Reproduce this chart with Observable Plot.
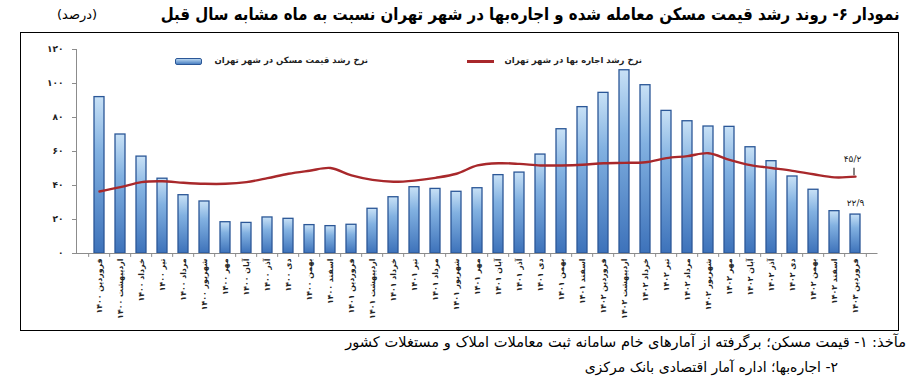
<!DOCTYPE html>
<html><head><meta charset="utf-8">
<script src="https://cdn.jsdelivr.net/npm/d3@7"></script>
<script src="https://cdn.jsdelivr.net/npm/@observablehq/plot@0.6"></script>
<style>
body{margin:0;background:#fff;}
#wrap{position:relative;width:918px;height:388px;font-family:"DejaVu Sans",sans-serif;color:#000;overflow:hidden;}
.title{position:absolute;top:4px;right:18px;font-weight:bold;font-size:17px;direction:rtl;white-space:nowrap;transform:scaleX(0.88);transform-origin:right center;}
.unit{position:absolute;top:7px;left:57px;font-size:13px;direction:rtl;white-space:nowrap;}
.box{position:absolute;left:20px;top:32px;width:877px;height:297px;border:1px solid #000;}
#chart{position:absolute;left:0;top:32px;}
.cap{position:absolute;direction:rtl;font-size:14px;white-space:nowrap;}
.leg{position:absolute;direction:rtl;font-size:8.5px;font-weight:bold;white-space:nowrap;color:#222;}
.sw1{position:absolute;left:175px;top:58px;width:25px;height:5px;border:1px solid #2b5797;border-radius:2px;background:linear-gradient(#b8d6f0,#4a7fc1);}
.sw2{position:absolute;left:467px;top:60px;width:27px;height:2.5px;background:#a8282b;}
</style></head><body>
<div id="wrap">
  <div class="title">نمودار ۶- روند رشد قیمت مسکن معامله شده و اجاره‌بها در شهر تهران نسبت به ماه مشابه سال قبل</div>
  <div class="unit">(درصد)</div>
  <div class="box"></div>
  <div id="chart"></div>
  <div class="sw1"></div>
  <div class="leg" style="right:550px;top:55px;">نرخ رشد قیمت مسکن در شهر تهران</div>
  <div class="sw2"></div>
  <div class="leg" style="right:276px;top:55px;">نرخ رشد اجاره بها در شهر تهران</div>
  <div class="cap" style="right:12px;top:333px;font-size:14.6px;">مآخذ: ۱- قیمت مسکن؛ برگرفته از آمارهای خام سامانه ثبت معاملات املاک و مستغلات کشور</div>
  <div class="cap" style="right:80px;top:359px;">۲- اجاره‌بها؛ اداره آمار اقتصادی بانک مرکزی</div>
</div>
<script>
const labels = [
  "فروردین ۱۴۰۰","اردیبهشت ۱۴۰۰","خرداد ۱۴۰۰","تیر ۱۴۰۰","مرداد ۱۴۰۰","شهریور ۱۴۰۰","مهر ۱۴۰۰","آبان ۱۴۰۰","آذر ۱۴۰۰","دی ۱۴۰۰","بهمن ۱۴۰۰","اسفند ۱۴۰۰",
  "فروردین ۱۴۰۱","اردیبهشت ۱۴۰۱","خرداد ۱۴۰۱","تیر ۱۴۰۱","مرداد ۱۴۰۱","شهریور ۱۴۰۱","مهر ۱۴۰۱","آبان ۱۴۰۱","آذر ۱۴۰۱","دی ۱۴۰۱","بهمن ۱۴۰۱","اسفند ۱۴۰۱",
  "فروردین ۱۴۰۲","اردیبهشت ۱۴۰۲","خرداد ۱۴۰۲","تیر ۱۴۰۲","مرداد ۱۴۰۲","شهریور ۱۴۰۲","مهر ۱۴۰۲","آبان ۱۴۰۲","آذر ۱۴۰۲","دی ۱۴۰۲","بهمن ۱۴۰۲","اسفند ۱۴۰۲",
  "فروردین ۱۴۰۳"
];
const housing = [92,70,57,44,34.3,30.6,18.4,18,21.2,20.4,16.7,16.1,16.9,26.3,33.1,39,38,36.3,38.4,46.1,47.6,58.2,73.1,86.1,94.5,107.8,99,83.9,77.8,74.7,74.5,62.5,54.3,45.3,37.5,24.9,22.9];
const rent = [36.5,39,42,42.5,41.6,41,41,42,44.3,46.9,48.7,50.3,45.9,43.3,42.2,42.9,44.5,46.9,51.8,53.1,52.7,51.8,51.8,52.2,53.1,53.3,53.7,56.1,57.3,59,55.1,52,50.3,48.6,46.6,44.8,45.2];
const yTicks = [0,20,40,60,80,100,120];

const fa = v => String(v).replace(".", "/").replace(/\d/g, d => "۰۱۲۳۴۵۶۷۸۹"[d]);
const data = labels.map((m, i) => ({m, h: housing[i], r: rent[i]}));
const last = data[data.length - 1];

const W = 918, H = 298, ML = 76, MR = 40.5;
const step = (W - ML - MR) / labels.length;
const axisColor = "#8c8c8c";

const plot = Plot.plot({
  width: W, height: H,
  marginTop: 17, marginBottom: 77, marginLeft: ML, marginRight: MR,
  style: {fontFamily: "DejaVu Sans, sans-serif", background: "transparent", overflow: "visible"},
  x: {domain: labels, paddingInner: 0.52, paddingOuter: 0.26, label: null},
  y: {domain: [0, 120], label: null},
  marks: [
    Plot.frame({anchor: "left", stroke: axisColor}),
    Plot.axisY({ticks: yTicks, tickFormat: fa, tickSize: 4, tickPadding: 9, fontSize: 9, fontWeight: "bold", stroke: axisColor, fill: "#222"}),
    Plot.axisX({tickSize: 0, tickRotate: -90, tickPadding: 5, fontSize: 7.8, fontWeight: "bold", fill: "#222"}),
    Plot.ruleX(labels, {x: d => d, y1: 0, y2: -2.3, dx: -step / 2, stroke: axisColor}),
    Plot.ruleX([labels[labels.length - 1]], {x: d => d, y1: 0, y2: -2.3, dx: step / 2, stroke: axisColor}),
    Plot.barY(data, {x: "m", y: "h", fill: "url(#barGrad)", stroke: "#2b5797", strokeWidth: 1.3}),
    Plot.ruleY([0], {stroke: axisColor}),
    Plot.lineY(data, {x: "m", y: "r", stroke: "#a8282b", strokeWidth: 2.4, curve: "catmull-rom"}),
    Plot.text([last], {x: "m", y: "h", text: d => fa(d.h), dy: -11, fontSize: 9, fill: "#222"}),
    Plot.text([last], {x: "m", y: "r", text: d => fa(d.r), dy: -18, dx: -3, fontSize: 9, fill: "#222"}),
    Plot.link([last], {x1: "m", x2: "m", y1: d => d.r + 0.8, y2: d => d.r + 5.2, dx: -1.5, stroke: "#222", strokeWidth: 1.1})
  ]
});

d3.select(plot).insert("defs", ":first-child").html(`
  <linearGradient id="barGrad" x1="0" y1="0" x2="0" y2="1">
    <stop offset="0" stop-color="#c8e1f6"/>
    <stop offset="0.35" stop-color="#82b1e1"/>
    <stop offset="1" stop-color="#3d72ba"/>
  </linearGradient>`);
document.getElementById("chart").appendChild(plot);
</script>
</body></html>
